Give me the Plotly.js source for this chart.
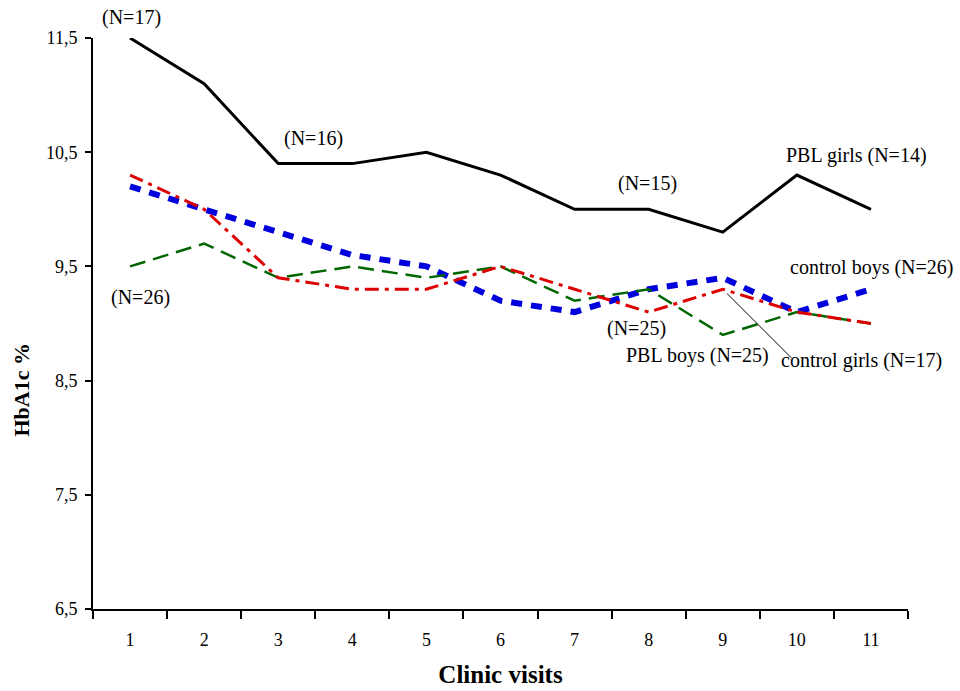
<!DOCTYPE html>
<html>
<head>
<meta charset="utf-8">
<script src="https://cdn.plot.ly/plotly-3.0.1.min.js"></script>
<style>body{margin:0;background:#fff}#chart{width:960px;height:691px}</style>
</head>
<body>
<div id="chart"></div>
<script>
const visits = ["1","2","3","4","5","6","7","8","9","10","11"];
const pblGirls = [11.5, 11.1, 10.4, 10.4, 10.5, 10.3, 10.0, 10.0, 9.8, 10.3, 10.0];
const controlBoys = [10.2, 10.0, 9.8, 9.6, 9.5, 9.2, 9.1, 9.3, 9.4, 9.1, 9.3];
const controlGirls = [10.3, 10.0, 9.4, 9.3, 9.3, 9.5, 9.3, 9.1, 9.3, 9.1, 9.0];
const pblBoys = [9.5, 9.7, 9.4, 9.5, 9.4, 9.5, 9.2, 9.3, 8.9, 9.1, 9.0];
const yTicks = [6.5, 7.5, 8.5, 9.5, 10.5, 11.5];

const FONT = "Liberation Serif, Times New Roman, serif";

const traces = [
  {x: visits, y: controlBoys, mode: "lines", line: {color: "#0000dd", width: 6, dash: "11px,9px"}},
  {x: visits, y: pblBoys, mode: "lines", line: {color: "#006600", width: 2.5, dash: "16px,8px"}},
  {x: visits, y: controlGirls, mode: "lines", line: {color: "#dd0000", width: 3, dash: "14px,6px,4px,6px"}},
  {x: visits, y: pblGirls, mode: "lines", line: {color: "#000000", width: 3}}
];

const ann = (x, y, text) => ({x, y, xref: "paper", yref: "paper", text, showarrow: false,
  xanchor: "center", yanchor: "middle", font: {family: FONT, size: 20, color: "#000"}});
const px = v => (v - 93) / (908 - 93);
const py = v => (609 - v) / (609 - 38);

const annotations = [
  ann(px(131), py(18), "(N=17)"),
  ann(px(313), py(138), "(N=16)"),
  ann(px(647), py(183), "(N=15)"),
  ann(px(856), py(155), "PBL girls (N=14)"),
  ann(px(871), py(267), "control boys (N=26)"),
  ann(px(140), py(297), "(N=26)"),
  ann(px(636), py(328), "(N=25)"),
  ann(px(697), py(355), "PBL boys (N=25)"),
  ann(px(861), py(360), "control girls (N=17)"),
  {x: visits.indexOf("9"), y: controlGirls[visits.indexOf("9")], xref: "x", yref: "y", text: "",
   showarrow: true, arrowhead: 0, arrowwidth: 1, arrowcolor: "#000", ax: 70, ay: 70, standoff: 6},
  {x: px(6), y: py(390), xref: "paper", yref: "paper", text: "<b>HbA1c %</b>", showarrow: false,
   textangle: -90, font: {family: FONT, size: 22, color: "#000"}}
];

const layout = {
  width: 960, height: 691,
  margin: {l: 93, r: 52, t: 38, b: 82},
  paper_bgcolor: "#fff", plot_bgcolor: "#fff",
  showlegend: false,
  separators: ",.",
  font: {family: FONT, color: "#000"},
  xaxis: {
    type: "category", categoryarray: visits, range: [-0.5, 10.5],
    tickson: "boundaries", ticks: "outside", ticklen: 8, tickwidth: 2, tickcolor: "#000",
    showline: true, linewidth: 2, linecolor: "#000", showgrid: false, zeroline: false,
    tickfont: {family: FONT, size: 18}, ticklabelstandoff: 13,
    title: {text: "<b>Clinic visits</b>", font: {family: FONT, size: 25}, standoff: 17}
  },
  yaxis: {
    range: [6.5, 11.5], tickvals: yTicks, tickformat: ".1f",
    ticks: "outside", ticklen: 6, tickwidth: 2, tickcolor: "#000",
    showline: true, linewidth: 2, linecolor: "#000", showgrid: false, zeroline: false,
    tickfont: {family: FONT, size: 18}, ticklabelstandoff: 4
  },
  annotations
};

Plotly.newPlot("chart", traces, layout, {displayModeBar: false, staticPlot: true});
</script>
</body>
</html>
